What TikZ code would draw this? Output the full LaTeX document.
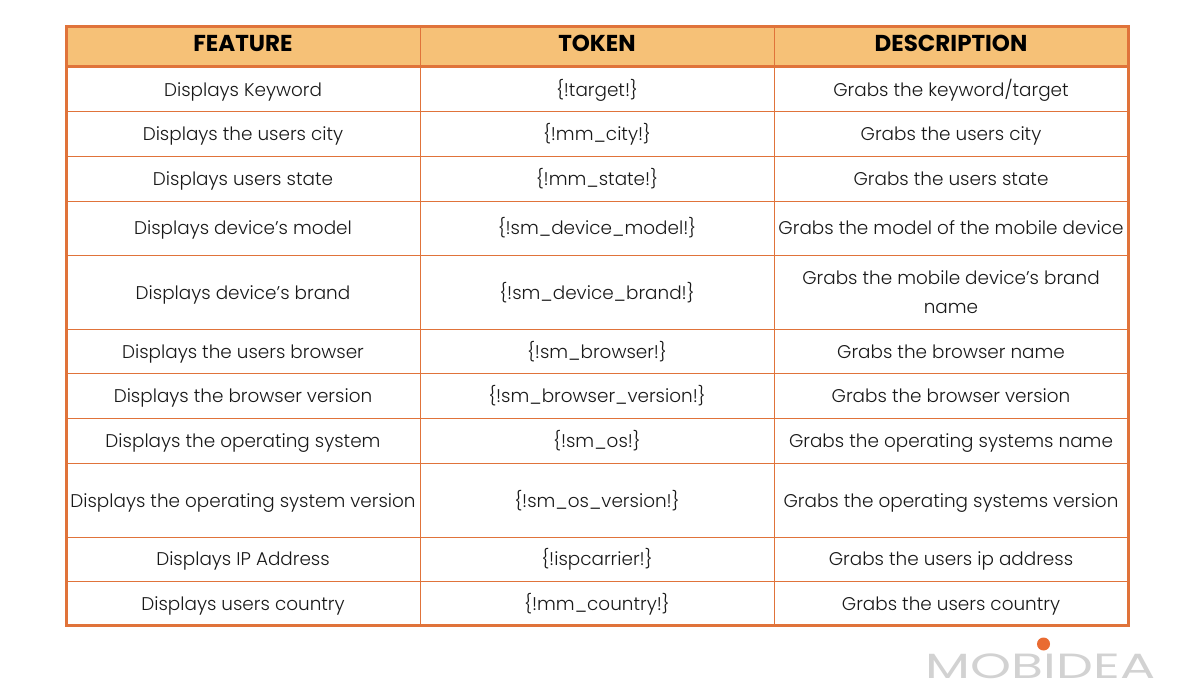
\documentclass[tikz,border=0pt]{standalone}
\usepackage{fontspec}
\setmainfont{Poppins}[UprightFont=* Light,BoldFont=* Bold]
\newfontfamily\logofont{Poppins}
\definecolor{rule}{HTML}{E0733A}
\definecolor{head}{HTML}{F6C177}
\definecolor{dot}{HTML}{E96B32}
\definecolor{logo}{HTML}{D2D2D2}
\tikzset{
 cell/.style={anchor=base,inner sep=0pt,font=\fontsize{18.4}{24}\selectfont,text=black!90},
 hcell/.style={anchor=base,inner sep=0pt,font=\fontsize{23}{26}\selectfont\bfseries,text=black},
 thin rule/.style={draw=rule,line width=1pt},
 thick rule/.style={draw=rule,line width=3pt},
}
\begin{document}
\begin{tikzpicture}[x=1pt,y=-1pt]
\useasboundingbox (0,0) rectangle (1200,700);
\fill[white] (0,0) rectangle (1200,700);
\fill[head] (66,27) rectangle (1128.5,67);
\foreach \y in {111.5,156.5,201.5,255.5,329.5,373.5,418.5,463.5,537,581.5} \draw[thin rule] (66,\y) -- (1128.5,\y);
\foreach \x in {420,774} \draw[thin rule] (\x,27) -- (\x,625.5);
\draw[thick rule] (66,67) -- (1128.5,67);
\draw[thick rule] (66,27) rectangle (1128.5,625.5);
\node[hcell] (h1) at (243,52) {FEATURE};
\node[hcell] (h2) at (597,52) {TOKEN};
\node[hcell] (h3) at (951,52) {DESCRIPTION};
\foreach \n/\y/\a/\b/\c in {
 1/96.2/Displays Keyword/\{!target!\}/Grabs the keyword\slash target,
 2/140.2/Displays the users city/\{!mm\_city!\}/Grabs the users city,
 3/185.2/Displays users state/\{!mm\_state!\}/Grabs the users state,
 4/234.2/Displays device’s model/\{!sm\_device\_model!\}/Grabs the model of the mobile device,
 5/299.2/Displays device’s brand/\{!sm\_device\_brand!\}/Grabs the mobile device’s brand,
 6/358.2/Displays the users browser/\{!sm\_browser!\}/Grabs the browser name,
 7/402.2/Displays the browser version/\{!sm\_browser\_version!\}/Grabs the browser version,
 8/447.2/Displays the operating system/\{!sm\_os!\}/Grabs the operating systems name,
 9/507.2/Displays the operating system version/\{!sm\_os\_version!\}/Grabs the operating systems version,
 10/565/Displays IP Address/\{!ispcarrier!\}/Grabs the users ip address,
 11/610/Displays users country/\{!mm\_country!\}/Grabs the users country}{
 \node[cell] (a\n) at (243,\y) {\a};
 \node[cell] (b\n) at (597,\y) {\b};
 \ifnum\n=5
  \node[cell] (c\n) at (951,284.2) {\c};
  \node[cell] (c5b) at (951,313.2) {name};
 \else
  \node[cell] (c\n) at (951,\y) {\c};
 \fi
}
\fill[dot] (1043.5,644) circle (6.5);
\node[anchor=base,inner sep=0pt,text=logo,font=\logofont\fontsize{35}{35}\selectfont,xscale=1.49] (logo) at (1040.5,678) {MOBIDEA};
\end{tikzpicture}
\end{document}
